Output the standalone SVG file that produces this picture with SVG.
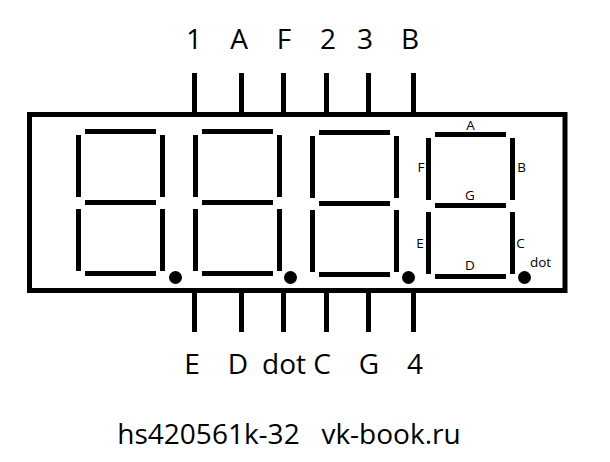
<svg xmlns="http://www.w3.org/2000/svg" xmlns:xlink="http://www.w3.org/1999/xlink" width="610" height="462" viewBox="0 0 610 462">
<style>
text{font-family:"Open Sans","Noto Sans",sans-serif;fill:#000;text-anchor:middle}
.big{font-size:28px}
.cap{font-size:28px}
.small{font-size:13.500px}
.pin{fill:#000}
</style>
<defs>
<g id="seg">
<rect x="9" y="0" width="71" height="5"/>
<rect x="9" y="71" width="71" height="5"/>
<rect x="9" y="142" width="71" height="5"/>
<rect x="0" y="6" width="5" height="62"/>
<rect x="0" y="80" width="5" height="62"/>
<rect x="84" y="6" width="5" height="62"/>
<rect x="84" y="80" width="5" height="62"/>
</g>
</defs>
<rect width="610" height="462" fill="#fff"/>
<g id="connectors" class="pin">
<rect x="192" y="73" width="5" height="40"/>
<rect x="239" y="73" width="5" height="40"/>
<rect x="281" y="73" width="5" height="40"/>
<rect x="324" y="73" width="5" height="40"/>
<rect x="366" y="73" width="5" height="40"/>
<rect x="411" y="73" width="5" height="40"/>
<rect x="192" y="292" width="5" height="40"/>
<rect x="239" y="292" width="5" height="40"/>
<rect x="281" y="292" width="5" height="40"/>
<rect x="324" y="292" width="5" height="40"/>
<rect x="366" y="292" width="5" height="40"/>
<rect x="411" y="292" width="5" height="40"/>
</g>
<g id="body"><rect x="29.500" y="114.500" width="535.500" height="176" fill="none" stroke="#000" stroke-width="5"/></g>
<g id="digit1"><use xlink:href="#seg" href="#seg" x="76" y="129"/><circle cx="175.500" cy="277.500" r="6.500"/></g>
<g id="digit2"><use xlink:href="#seg" href="#seg" x="193" y="129"/><circle cx="290.500" cy="277.500" r="6.500"/></g>
<g id="digit3"><use xlink:href="#seg" href="#seg" x="310" y="130"/><circle cx="408.500" cy="277.500" r="6.500"/></g>
<g id="digit4"><use xlink:href="#seg" href="#seg" x="426" y="132"/><circle cx="524.500" cy="277.500" r="6.500"/></g>
<g id="segment-labels" class="small">
<text x="470.500" y="130">A</text>
<text x="421" y="172">F</text>
<text x="521.500" y="172">B</text>
<text x="470" y="200">G</text>
<text x="420" y="248">E</text>
<text x="520.500" y="248">C</text>
<text x="470" y="270">D</text>
<text x="540.500" y="267">dot</text>
</g>
<g id="top-labels" class="big">
<text x="194" y="49">1</text>
<text x="239" y="49">A</text>
<text x="284" y="49">F</text>
<text x="328" y="49">2</text>
<text x="365" y="49">3</text>
<text x="410" y="49">B</text>
</g>
<g id="bottom-labels" class="big">
<text x="192" y="374">E</text>
<text x="238" y="374">D</text>
<text x="284" y="374">dot</text>
<text x="322" y="374">C</text>
<text x="369" y="374">G</text>
<text x="415" y="374">4</text>
</g>
<g id="caption" class="cap">
<text x="208.500" y="444">hs420561k-32</text>
<text x="391" y="444">vk-book.ru</text>
</g>
</svg>
